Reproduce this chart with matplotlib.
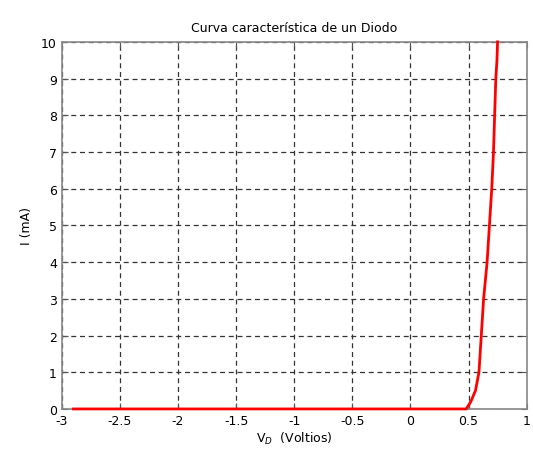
import matplotlib.pyplot as plt

# curva del diodo
voltaje = [-2.9, 0.0, 0.45, 0.48, 0.52, 0.56, 0.59, 0.61, 0.63, 0.66, 0.68, 0.70, 0.715, 0.725, 0.735, 0.745, 0.75]
corriente = [0, 0, 0, 0, 0.2, 0.5, 1.0, 2.0, 3.0, 4.0, 5.0, 6.0, 7.0, 8.0, 9.0, 9.5, 10.0]
xticks = [-3, -2.5, -2, -1.5, -1, -0.5, 0, 0.5, 1]
yticks = list(range(0, 11))

fig = plt.figure(figsize=(5.33, 4.56), dpi=100)
ax = fig.add_axes([0.116, 0.101, 0.872, 0.805])

ax.plot(voltaje, corriente, color='red', linewidth=2, zorder=5, clip_on=False)

ax.set_xlim(-3, 1)
ax.set_ylim(0, 10)
ax.set_xticks(xticks)
ax.set_xticklabels(['-3', '-2.5', '-2', '-1.5', '-1', '-0.5', '0', '0.5', '1'])
ax.set_yticks(yticks)
ax.tick_params(direction='in', top=True, right=True, labelsize=9, length=4, color='#555555')
ax.grid(True, linestyle=(0, (4, 3)), color='#333333', linewidth=0.9)
for s in ax.spines.values():
    s.set_color('#888888')
    s.set_linewidth(1.2)

ax.set_title('Curva característica de un Diodo', fontsize=9, pad=8)
ax.set_xlabel('V$_D$  (Voltios)', fontsize=9, labelpad=2)
ax.set_ylabel('I (mA)', fontsize=9, labelpad=6)

fig.savefig('out.png', dpi=100)
